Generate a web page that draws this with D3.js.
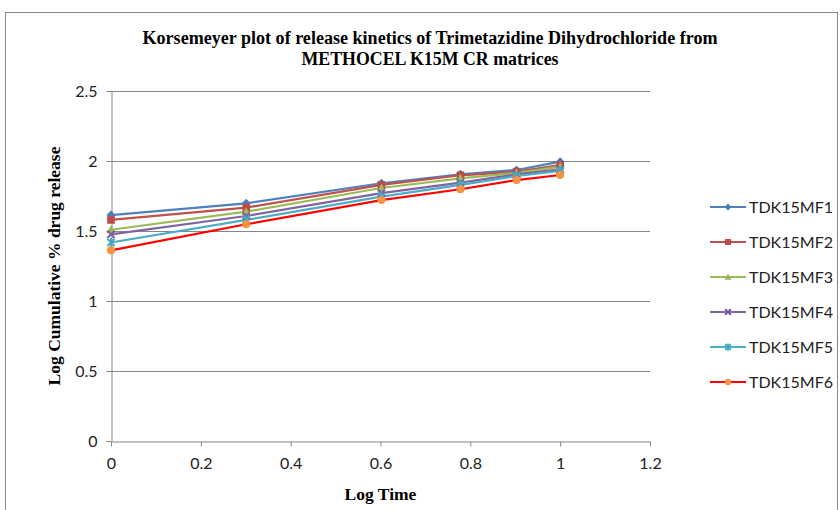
<!DOCTYPE html>
<html>
<head>
<meta charset="utf-8">
<script src="https://cdn.jsdelivr.net/npm/d3@7"></script>
<style>
  html, body { margin: 0; padding: 0; background: #fff; }
  svg { display: block; }
</style>
</head>
<body>
<svg id="chart" width="840" height="510"></svg>
<script>
// Log time (1, 2, 4, 6, 8, 10 h)
const logTime = [0, 0.301, 0.602, 0.778, 0.903, 1];

const seriesNames = ["TDK15MF1", "TDK15MF2", "TDK15MF3", "TDK15MF4", "TDK15MF5", "TDK15MF6"];

const mf1 = [1.614, 1.698, 1.841, 1.905, 1.936, 1.995];
const mf2 = [1.579, 1.667, 1.829, 1.898, 1.924, 1.971];
const mf3 = [1.509, 1.638, 1.807, 1.876, 1.915, 1.960];
const mf4 = [1.476, 1.607, 1.771, 1.845, 1.905, 1.940];
const mf5 = [1.418, 1.579, 1.745, 1.829, 1.893, 1.930];
const mf6 = [1.362, 1.548, 1.721, 1.798, 1.864, 1.900];

const xTicks = [0, 0.2, 0.4, 0.6, 0.8, 1, 1.2];
const yTicks = [0, 0.5, 1, 1.5, 2, 2.5];

const titleLines = ["Korsemeyer  plot of release kinetics of Trimetazidine Dihydrochloride from",
                    "METHOCEL K15M CR matrices"];
const xTitle = "Log Time";
const yTitle = "Log Cumulative % drug release";

const allValues = [mf1, mf2, mf3, mf4, mf5, mf6];
const lineColors   = ["#4F81BD", "#C0504D", "#9BBB59", "#8064A2", "#4BACC6", "#FF0000"];
const markerColors = ["#4A7EBB", "#BE4B48", "#98B954", "#7D60A0", "#46AAC5", "#F69240"];
const markerTypes  = ["diamond", "square", "triangle", "cross", "star", "circle"];

const svg = d3.select("#chart");
const plot = { left: 111, right: 650, top: 91, bottom: 441 };
const serif = "'Liberation Serif', 'Times New Roman', serif";
const tickFont = "Lato, 'Open Sans', sans-serif";

// outer chart frame
svg.append("rect")
  .attr("x", 5.5).attr("y", 12.5).attr("width", 832).attr("height", 520)
  .attr("fill", "#fff").attr("stroke", "#868686").attr("stroke-width", 1);

const x = d3.scaleLinear().domain([0, 1.2]).range([plot.left, plot.right]);
const y = d3.scaleLinear().domain([0, 2.5]).range([plot.bottom, plot.top]);

// horizontal gridlines
svg.append("g")
  .selectAll("line")
  .data(yTicks.filter(d => d > 0))
  .join("line")
  .attr("x1", plot.left).attr("x2", plot.right)
  .attr("y1", d => Math.round(y(d)) + 0.5).attr("y2", d => Math.round(y(d)) + 0.5)
  .attr("stroke", "#868686").attr("stroke-width", 1);

// axes
const xAxis = svg.append("g")
  .attr("transform", `translate(0,${plot.bottom + 0.5})`)
  .call(d3.axisBottom(x).tickValues(xTicks).tickSize(5).tickSizeOuter(0).tickPadding(8)
    .tickFormat(d => d3.format("")(d)));
const yAxis = svg.append("g")
  .attr("transform", `translate(${plot.left + 0.5},0)`)
  .call(d3.axisLeft(y).tickValues(yTicks).tickSize(5).tickSizeOuter(0).tickPadding(9)
    .tickFormat(d => d3.format("")(d)));
[xAxis, yAxis].forEach(a => {
  a.select(".domain").attr("stroke", "#868686");
  a.selectAll(".tick line").attr("stroke", "#868686");
  a.selectAll(".tick text")
    .attr("fill", "#222").style("font-family", tickFont).style("font-size", "16px");
});
xAxis.selectAll(".tick text").attr("dy", "0.9em");
yAxis.selectAll(".tick text").attr("dy", "0.35em");

// marker drawing helper
function drawMarker(g, type, cx, cy, color, s) {
  const sel = g.append("g").attr("transform", `translate(${cx},${cy})`);
  if (type === "diamond") {
    sel.append("path").attr("d", `M0,${-s}L${s},0L0,${s}L${-s},0Z`).attr("fill", color);
  } else if (type === "square") {
    sel.append("rect").attr("x", -s * 0.85).attr("y", -s * 0.85)
      .attr("width", s * 1.7).attr("height", s * 1.7).attr("fill", color);
  } else if (type === "triangle") {
    sel.append("path").attr("d", `M0,${-s}L${s},${s * 0.8}L${-s},${s * 0.8}Z`).attr("fill", color);
  } else if (type === "cross") {
    const k = s * 0.8;
    sel.append("path").attr("d", `M${-k},${-k}L${k},${k}M${-k},${k}L${k},${-k}`)
      .attr("stroke", color).attr("stroke-width", 2).attr("fill", "none");
  } else if (type === "star") {
    const k = s * 0.8;
    sel.append("path").attr("d", `M${-k},${-k}L${k},${k}M${-k},${k}L${k},${-k}M0,${-s}L0,${s}`)
      .attr("stroke", color).attr("stroke-width", 2).attr("fill", "none");
  } else {
    sel.append("circle").attr("r", s * 0.9).attr("fill", color);
  }
}

// series lines and markers
const line = d3.line().x(d => x(d[0])).y(d => y(d[1]));
const seriesG = svg.append("g");
allValues.forEach((vals, i) => {
  const pts = logTime.map((t, j) => [t, vals[j]]);
  seriesG.append("path")
    .datum(pts)
    .attr("d", line)
    .attr("fill", "none")
    .attr("stroke", lineColors[i])
    .attr("stroke-width", 2.2)
    .attr("stroke-linejoin", "round");
});
allValues.forEach((vals, i) => {
  logTime.forEach((t, j) => drawMarker(seriesG, markerTypes[i], x(t), y(vals[j]), markerColors[i], 4.5));
});

// title, two centred lines in a tall narrow bold serif
const titleWidths = [575, 257];
titleLines.forEach((t, i) => {
  svg.append("text")
    .attr("x", 430).attr("y", 44 + i * 21)
    .attr("text-anchor", "middle")
    .attr("textLength", titleWidths[i]).attr("lengthAdjust", "spacingAndGlyphs")
    .style("font-family", serif).style("font-weight", "bold").style("font-size", "18px")
    .attr("fill", "#000")
    .text(t);
});

// axis titles
svg.append("text")
  .attr("x", x(0.6)).attr("y", 500)
  .attr("text-anchor", "middle")
  .style("font-family", serif).style("font-weight", "bold").style("font-size", "17.5px")
  .text(xTitle);
svg.append("text")
  .attr("transform", `translate(60,266) rotate(-90)`)
  .attr("text-anchor", "middle")
  .style("font-family", serif).style("font-weight", "bold").style("font-size", "17.5px")
  .text(yTitle);

// legend
const legend = svg.append("g");
seriesNames.forEach((name, i) => {
  const ly = 207 + i * 35;
  legend.append("line")
    .attr("x1", 710).attr("x2", 746).attr("y1", ly).attr("y2", ly)
    .attr("stroke", lineColors[i]).attr("stroke-width", 2.2);
  drawMarker(legend, markerTypes[i], 728, ly, markerColors[i], 3.5);
  legend.append("text")
    .attr("x", 749).attr("y", ly).attr("dy", "0.35em")
    .style("font-family", tickFont).style("font-size", "16px").attr("fill", "#222")
    .text(name);
});
</script>
</body>
</html>
